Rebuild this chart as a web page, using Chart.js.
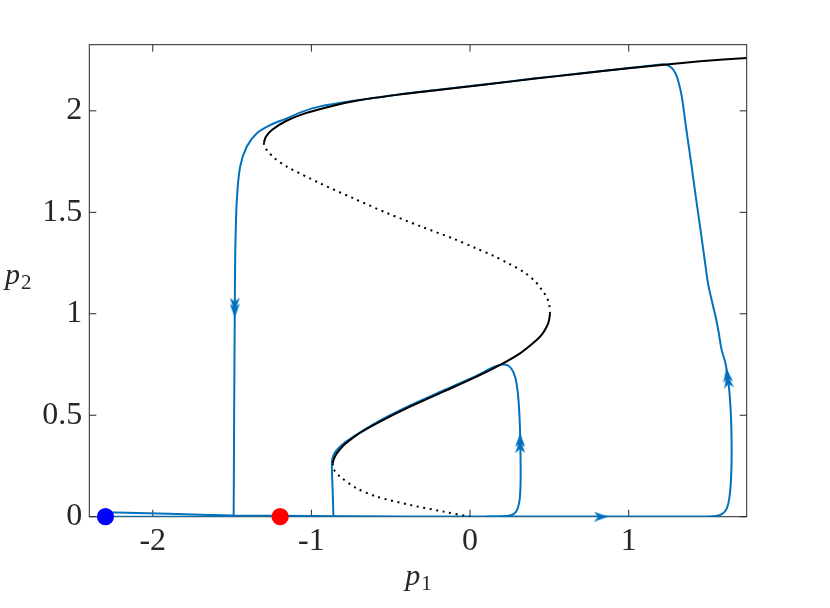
<!DOCTYPE html>
<html>
<head>
<meta charset="utf-8">
<script src="https://cdn.jsdelivr.net/npm/chart.js@4.4.1/dist/chart.umd.min.js"></script>
<style>
  html, body { margin: 0; padding: 0; background: #fff; }
  #wrap { width: 830px; height: 608px; }
</style>
</head>
<body>
<div id="wrap"><canvas id="phaseChart"></canvas></div>
<script>
// axis ticks
const xTicks = [-2, -1, 0, 1];
const xTickLabels = ['-2', '-1', '0', '1'];
const yTicks = [0, 0.5, 1, 1.5, 2];
const yTickLabels = ['0', '0.5', '1', '1.5', '2'];

// black S-curve: stable upper branch
const upperP1 = [-1.300, -1.285, -1.245, -1.160, -1.050, -0.900, -0.700, -0.450, -0.200, 0.100, 0.400, 0.700, 1.000, 1.190, 1.450, 1.744];
const upperP2 = [1.843, 1.875, 1.908, 1.950, 1.985, 2.018, 2.052, 2.080, 2.103, 2.130, 2.158, 2.184, 2.210, 2.225, 2.244, 2.261];
// unstable middle branch (dotted)
const middleP1 = [0.504, 0.500, 0.485, 0.460, 0.410, 0.340, 0.250, 0.150, 0.040, -0.105, -0.315, -0.525, -0.735, -0.945, -1.155, -1.235, -1.277, -1.296, -1.300];
const middleP2 = [1.000, 1.040, 1.080, 1.110, 1.160, 1.205, 1.245, 1.285, 1.322, 1.370, 1.432, 1.497, 1.569, 1.643, 1.725, 1.768, 1.803, 1.826, 1.843];
// stable lower branch
const lowerP1 = [0.504, 0.497, 0.483, 0.455, 0.420, 0.315, 0.190, 0.042, -0.168, -0.378, -0.588, -0.700, -0.756, -0.800, -0.840, -0.858, -0.865];
const lowerP2 = [1.000, 0.965, 0.936, 0.900, 0.871, 0.805, 0.748, 0.690, 0.616, 0.542, 0.460, 0.410, 0.378, 0.350, 0.312, 0.285, 0.263];
// unstable bottom branch (dotted)
const bottomP1 = [-0.865, -0.860, -0.819, -0.714, -0.588, -0.378, -0.168, 0.000];
const bottomP2 = [0.263, 0.235, 0.197, 0.140, 0.099, 0.058, 0.025, 0.000];

// blue trajectories
const outerP1 = [-2.298, -1.900, -1.490, -1.000, -0.400, 0.300, 0.900, 1.400, 1.550, 1.590, 1.618, 1.636, 1.646, 1.649, 1.645, 1.632, 1.612, 1.586, 1.567, 1.548, 1.523, 1.500, 1.482, 1.453, 1.423, 1.394, 1.364, 1.335, 1.315, 1.295, 1.270, 1.229, 1.187, 1.000, 0.700, 0.400, 0.100, -0.200, -0.450, -0.700, -0.945, -1.060, -1.155, -1.260, -1.344, -1.407, -1.449, -1.470, -1.480, -1.483, -1.487, -1.490];
const outerP2 = [0.022, 0.014, 0.006, 0.003, 0.001, 0.001, 0.001, 0.001, 0.004, 0.014, 0.040, 0.100, 0.200, 0.330, 0.490, 0.640, 0.750, 0.822, 0.910, 0.985, 1.068, 1.150, 1.249, 1.413, 1.577, 1.742, 1.906, 2.070, 2.140, 2.185, 2.212, 2.229, 2.227, 2.211, 2.185, 2.159, 2.131, 2.104, 2.081, 2.053, 2.022, 1.995, 1.963, 1.930, 1.890, 1.824, 1.725, 1.560, 1.300, 1.000, 0.500, 0.000];
const returnP1 = [-1.490, -2.298];
const returnP2 = [0.000, 0.000];
const innerP1 = [-0.861, -0.866, -0.871, -0.868, -0.850, -0.810, -0.740, -0.588, -0.378, -0.168, 0.042, 0.150, 0.200, 0.235, 0.262, 0.284, 0.300, 0.310, 0.316, 0.319, 0.318, 0.312, 0.300, 0.280, 0.250, 0.210, 0.100];
const innerP2 = [0.000, 0.130, 0.250, 0.285, 0.318, 0.352, 0.392, 0.465, 0.548, 0.622, 0.695, 0.738, 0.750, 0.747, 0.728, 0.690, 0.620, 0.520, 0.400, 0.250, 0.150, 0.080, 0.040, 0.016, 0.006, 0.002, 0.000];

// direction arrows on the trajectories
const arrowP1 = [-1.483, 0.316, 0.826, 1.624];
const arrowP2 = [1.030, 0.363, 0.000, 0.683];
const arrowAngle = [180, 0, 90, -8];

// equilibria markers
const dotP1 = [-2.298, -1.197];
const dotP2 = [0, 0];
const dotColors = ['#0000ff', '#ff0000'];

const BLUE = '#0072bd';
const AXIS = '#262626';
const SERIF = '"Liberation Serif", "Times New Roman", serif';

function zip(xs, ys) {
    return xs.map((v, i) => ({ x: v, y: ys[i] }));
}

// notched arrowhead image, tip pointing up
function makeArrow(double) {
    const w = 10, h = double ? 20 : 14;
    const c = document.createElement('canvas');
    c.width = w; c.height = h;
    const g = c.getContext('2d');
    g.fillStyle = BLUE;
    const head = (top) => {
        g.beginPath();
        g.moveTo(w / 2, top);
        g.lineTo(w, top + 14);
        g.lineTo(w / 2, top + 10);
        g.lineTo(0, top + 14);
        g.closePath();
        g.fill();
    };
    if (double) { head(0); head(6); } else { head(0); }
    return c;
}
const arrowSingle = makeArrow(false);
const arrowDouble = makeArrow(true);

function lineSet(xs, ys, color, dashed, order) {
    return {
        data: zip(xs, ys),
        showLine: true,
        borderColor: color,
        borderWidth: 2,
        borderDash: dashed ? [2, 4.6] : [],
        pointRadius: 0,
        tension: 0.3,
        fill: false,
        order: order
    };
}

const frame = {
    id: 'frame',
    beforeDatasetsDraw(chart) {
        const { ctx, chartArea: a, scales: { x, y } } = chart;
        ctx.save();
        ctx.strokeStyle = AXIS;
        ctx.lineWidth = 1;
        ctx.strokeRect(a.left, a.top, a.right - a.left, a.bottom - a.top);
        ctx.beginPath();
        xTicks.forEach(v => {
            const px = x.getPixelForValue(v);
            ctx.moveTo(px, a.bottom); ctx.lineTo(px, a.bottom - 7);
            ctx.moveTo(px, a.top); ctx.lineTo(px, a.top + 7);
        });
        yTicks.forEach(v => {
            const py = y.getPixelForValue(v);
            ctx.moveTo(a.left, py); ctx.lineTo(a.left + 7, py);
            ctx.moveTo(a.right, py); ctx.lineTo(a.right - 7, py);
        });
        ctx.stroke();
        ctx.restore();
    },
    afterDraw(chart) {
        const { ctx, chartArea: a } = chart;
        const label = (cx, baseline, sub, centered) => {
            ctx.font = 'italic 30px ' + SERIF;
            const wp = ctx.measureText('p').width;
            ctx.font = '21px ' + SERIF;
            const ws = ctx.measureText(sub).width;
            const x0 = centered ? cx - (wp + ws) / 2 : cx;
            ctx.fillStyle = AXIS;
            ctx.textBaseline = 'alphabetic';
            ctx.textAlign = 'left';
            ctx.font = 'italic 30px ' + SERIF;
            ctx.fillText('p', x0, baseline);
            ctx.font = '21px ' + SERIF;
            ctx.fillText(sub, x0 + wp + 1, baseline + 5);
        };
        ctx.save();
        label((a.left + a.right) / 2, 585, '1', true);
        label(5, 284, '2', false);
        ctx.restore();
    }
};

const ctx = document.getElementById('phaseChart').getContext('2d');
new Chart(ctx, {
    type: 'scatter',
    data: {
        datasets: [
            {
                data: zip(dotP1, dotP2),
                pointRadius: 8.6,
                pointBackgroundColor: dotColors,
                pointBorderWidth: 0,
                borderColor: dotColors,
                clip: false,
                order: 0
            },
            {
                data: zip(arrowP1, arrowP2),
                pointStyle: [arrowDouble, arrowDouble, arrowSingle, arrowDouble],
                rotation: arrowAngle,
                pointRadius: 8,
                clip: false,
                order: 1
            },
            lineSet(upperP1, upperP2, '#000000', false, 2),
            lineSet(middleP1, middleP2, '#000000', true, 2),
            lineSet(lowerP1, lowerP2, '#000000', false, 2),
            lineSet(bottomP1, bottomP2, '#000000', true, 2),
            lineSet(outerP1, outerP2, BLUE, false, 3),
            lineSet(returnP1, returnP2, BLUE, false, 3),
            lineSet(innerP1, innerP2, BLUE, false, 3)
        ]
    },
    options: {
        responsive: true,
        maintainAspectRatio: false,
        animation: false,
        events: [],
        layout: {
            padding: { left: 0, top: 44.7, right: 83.3, bottom: 0 }
        },
        plugins: {
            legend: { display: false },
            tooltip: { enabled: false }
        },
        scales: {
            x: {
                type: 'linear',
                min: -2.4,
                max: 1.744,
                grid: { display: false, drawTicks: false },
                border: { display: false },
                afterBuildTicks: s => { s.ticks = xTicks.map(v => ({ value: v })); },
                afterFit: s => { s.height = 91.3; },
                ticks: {
                    padding: 6,
                    color: AXIS,
                    font: { family: SERIF, size: 32 },
                    callback: (v, i) => xTickLabels[i]
                }
            },
            y: {
                type: 'linear',
                min: 0,
                max: 2.326,
                grid: { display: false, drawTicks: false },
                border: { display: false },
                afterBuildTicks: s => { s.ticks = yTicks.map(v => ({ value: v })); },
                afterFit: s => { s.width = 89.3; },
                ticks: {
                    padding: 7,
                    color: AXIS,
                    font: { family: SERIF, size: 32 },
                    callback: (v, i) => yTickLabels[i]
                }
            }
        }
    },
    plugins: [frame]
});
</script>
</body>
</html>
